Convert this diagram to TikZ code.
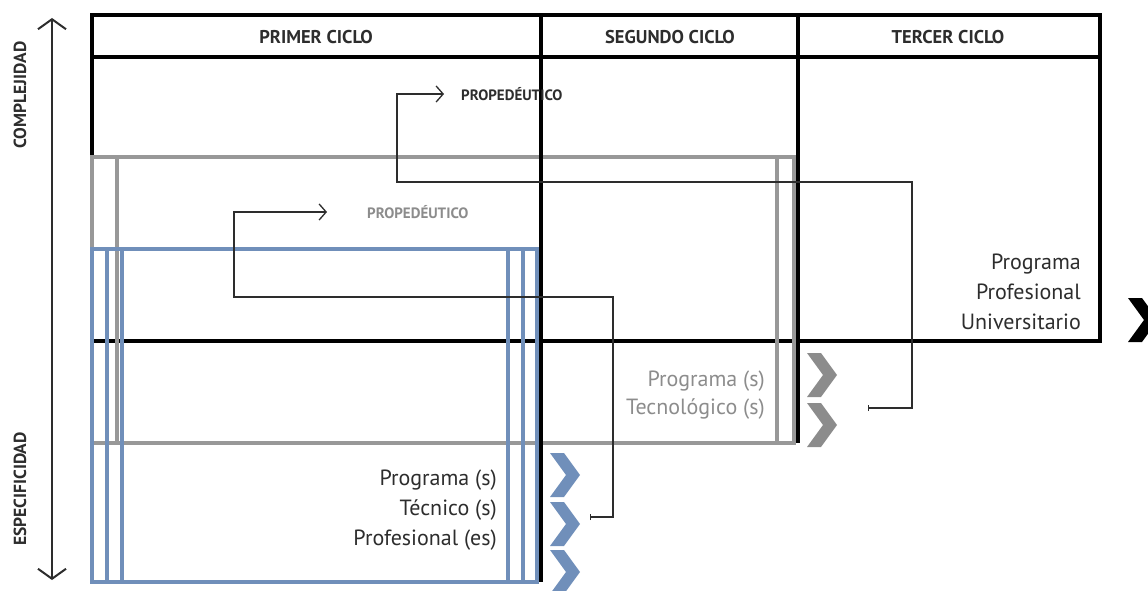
\documentclass[tikz,border=0pt]{standalone}
\usepackage{fontspec}
\setmainfont{PT Sans}
\usetikzlibrary{positioning, arrows.meta}
\definecolor{steel}{RGB}{112,143,186}
\definecolor{ash}{RGB}{152,152,152}
\definecolor{ink}{RGB}{45,45,45}
\definecolor{mist}{RGB}{140,140,140}

\begin{document}
\begin{tikzpicture}
			[x=1pt, y=-1pt,
			frame/.style={line width=3.5pt, black},
			greyframe/.style={line width=3.5pt, ash},
			blueframe/.style={line width=3.5pt, steel},
			head/.style={ink, font=\bfseries\fontsize{18.5}{19}\selectfont},
			prop/.style={anchor=west, inner sep=0pt, font=\bfseries\fontsize{15}{15}\selectfont},
			label/.style={anchor=east, align=right, inner sep=0pt},
			axis/.style={line width=2pt, ink, {Straight Barb[length=10pt,width=28pt,line width=2pt]}-{Straight Barb[length=10pt,width=28pt,line width=2pt]}},
			link/.style={line width=1.3pt, ink, {Bar[width=6pt]}-{Straight Barb[length=7pt,width=16pt]}},
			chev/.pic={\fill (0,-22) -- (14,-22) -- (30,0) -- (14,22) -- (0,22) -- (16,0) -- cycle;}]
		\useasboundingbox (0,0) rectangle (1148,591);

		% axis %
		\coordinate (low) at (52,580);
		\coordinate (high) at (52,18);
		\draw[axis] (low) -- (high);
		\node[ink, rotate=90, font=\bfseries\fontsize{17.5}{18}\selectfont] (cmp) at (20,95) {COMPLEJIDAD};
		\node[ink, rotate=90, font=\bfseries\fontsize{17.5}{18}\selectfont] (esp) at (20,489) {ESPECIFICIDAD};

		% table %
		\draw[frame] (92,157) -- (92,15) -- (1100,15) -- (1100,341) -- (92,341);
		\draw[frame] (92,57) -- (1100,57);
		\node[head] (c1) at (316,37) {PRIMER CICLO};
		\node[head] (c2) at (670,37) {SEGUNDO CICLO};
		\node[head] (c3) at (948,37) {TERCER CICLO};

		% grey block %
		\draw[greyframe] (92,157) rectangle (794,443);
		\draw[greyframe] (117,157) -- (117,443);
		\draw[greyframe] (777,157) -- (777,443);

		% blue block %
		\draw[blueframe] (92,249) rectangle (537,582);
		\draw[blueframe] (107,249) -- (107,582);
		\draw[blueframe] (122,249) -- (122,582);
		\draw[blueframe] (508,249) -- (508,582);
		\draw[blueframe] (523,249) -- (523,582);

		\draw[frame] (541,15) -- (541,582);
		\draw[frame] (798,15) -- (798,443);

		% nodes %
		\node[label, ink, font=\fontsize{22}{30}\selectfont] (univ) at (1081,292) {Programa\\Profesional\\Universitario};
		\node[label, mist, font=\fontsize{22}{28}\selectfont] (tecno) at (765,395) {Programa (s)\\Tecnológico (s)};
		\node[label, ink, font=\fontsize{22}{30}\selectfont] (tecni) at (497,510) {Programa (s)\\Técnico (s)\\Profesional (es)};

		\coordinate (a1) at (444,94);
		\node[prop, ink, right=17pt of a1] (prop1) {PROPEDÉUTICO};
		\coordinate (a2) at (327,212);
		\node[prop, mist, right=40pt of a2] (prop2) {PROPEDÉUTICO};

		% edges %
		\coordinate (s1) at (868,408);
		\coordinate (s2) at (590,517);
		\draw[link] (s1) -- (912,408) -- (912,182) -- (397,182) |- (a1);
		\draw[link] (s2) -- (613,517) -- (613,297) -- (234,297) |- (a2);

		% chevrons %
		\pic[steel] (b1) at (550,475) {chev};
		\pic[steel] (b2) at (550,524) {chev};
		\pic[steel] (b3) at (550,572) {chev};
		\pic[mist] (g1) at (807,375) {chev};
		\pic[mist] (g2) at (807,425) {chev};
		\pic[black] (k1) at (1128,320) {chev};
		\end{tikzpicture}
\end{document}
